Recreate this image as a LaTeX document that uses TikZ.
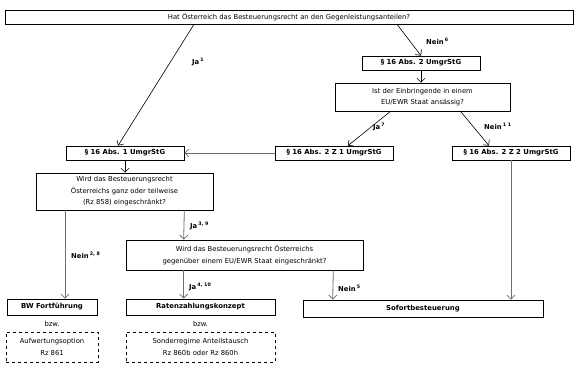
\documentclass[tikz,border=0pt]{standalone}
\usepackage{fontspec}
\setmainfont{DejaVu Sans}
\usetikzlibrary{arrows.meta,positioning}
\definecolor{ink}{HTML}{000000}
\definecolor{wire}{HTML}{6E6E6E}
\tikzset{
  box/.style={draw=ink,fill=white,inner sep=0pt,align=center,
    font=\fontsize{6.8}{11.5}\selectfont,text=ink,line width=0.7pt},
  law/.style={box,font=\fontsize{6.9}{8}\selectfont\bfseries,minimum width=118pt,minimum height=14pt},
  res/.style={law,minimum height=16pt},
  alt/.style={box,dashed},
  flow/.style={-{Straight Barb[length=4pt,width=8pt]},line width=0.6pt,color=ink},
  fg/.style={flow,color=wire,line width=0.8pt},
  lbl/.style={font=\fontsize{6.8}{8}\selectfont\bfseries,text=ink,anchor=west,inner sep=0pt},
  plain/.style={font=\fontsize{6.8}{8}\selectfont,text=ink,inner sep=0pt}
}
\newcommand{\hoch}[1]{\,\textsuperscript{#1}}
\begin{document}
\begin{tikzpicture}[x=1pt,y=-1pt]
  \useasboundingbox (0,0) rectangle (578,366);
  % Fragen und Rechtsgrundlagen
  \node[box,minimum width=568pt,minimum height=14pt] (top) at (289,17)
    {Hat Österreich das Besteuerungsrecht an den Gegenleistungsanteilen?};
  \node[law] (abs2) at (421,63) {§ 16 Abs. 2 UmgrStG};
  \node[box,minimum width=175pt,minimum height=28pt] (ist) at (422.5,97)
    {Ist der Einbringende in einem\\EU/EWR Staat ansässig?};
  \node[law] (z1) at (334,153) {§ 16 Abs. 2 Z 1 UmgrStG};
  \node[law] (z2) at (511,153) {§ 16 Abs. 2 Z 2 UmgrStG};
  \node[law] (abs1) at (125,153) {§ 16 Abs. 1 UmgrStG};
  \node[box,minimum width=177pt,minimum height=37pt] (wird1) at (124.5,191.5)
    {Wird das Besteuerungsrecht\\Österreichs ganz oder teilweise\\(Rz 858) eingeschränkt?};
  \node[box,minimum width=237pt,minimum height=30pt] (wird2) at (244.5,255)
    {Wird das Besteuerungsrecht Österreichs\\gegenüber einem EU/EWR Staat eingeschränkt?};
  % Ergebnisse
  \node[res,minimum width=90pt] (bw) at (52,307) {BW Fortführung};
  \node[res,minimum width=149pt] (raten) at (200.5,307) {Ratenzahlungskonzept};
  \node[res,minimum width=240pt,minimum height=17pt] (sofort) at (423,308.5) {Sofortbesteuerung};
  \node[plain] (bzw1) at (52,324) {bzw.};
  \node[plain] (bzw2) at (200.5,324) {bzw.};
  \node[alt,minimum width=92pt,minimum height=30pt] (aufw) at (52,347)
    {Aufwertungsoption\\Rz 861};
  \node[alt,minimum width=149pt,minimum height=30pt] (sond) at (200.5,347)
    {Sonderregime Anteilstausch\\Rz 860b oder Rz 860h};
  % Verbindungen
  \draw[flow] ([xshift=-95pt]top.south) -- ([xshift=-7pt]abs1.north);
  \draw[flow] ([xshift=108pt]top.south) -- (abs2.north);
  \draw[flow] (abs2.south) -- (abs2.south |- ist.north);
  \draw[flow] ([xshift=-32pt]ist.south) -- ([xshift=14pt]z1.north);
  \draw[flow] ([xshift=38pt]ist.south) -- ([xshift=-22pt]z2.north);
  \draw[fg] (z1.west) -- (abs1.east);
  \draw[flow] (abs1.south) -- (abs1.south |- wird1.north);
  \draw[fg] ([xshift=-59.5pt]wird1.south) -- ([xshift=13pt]bw.north);
  \draw[fg] ([xshift=-29pt]wird1.south east) -- ([xshift=58pt]wird2.north west);
  \draw[fg] ([xshift=58pt]wird2.south west) -- ([xshift=58pt]raten.north west);
  \draw[fg] ([xshift=-30pt]wird2.south east) -- ([xshift=30pt]sofort.north west);
  \draw[fg] (z2.south) -- (z2.south |- sofort.north);
  % Beschriftungen
  \node[lbl] (lja1) at (192,62) {Ja\hoch{1}};
  \node[lbl] (lnein6) at (426,41) {Nein\hoch{6}};
  \node[lbl] (lja7) at (373,127) {Ja\hoch{7}};
  \node[lbl] (lnein11) at (484,126) {Nein\hoch{1 1}};
  \node[lbl] (lnein28) at (71,255) {Nein\hoch{2, 8}};
  \node[lbl] (lja39) at (190,226) {Ja\hoch{3, 9}};
  \node[lbl] (lja410) at (189,287) {Ja\hoch{4, 10}};
  \node[lbl] (lnein5) at (338,288) {Nein\hoch{5}};
\end{tikzpicture}
\end{document}
